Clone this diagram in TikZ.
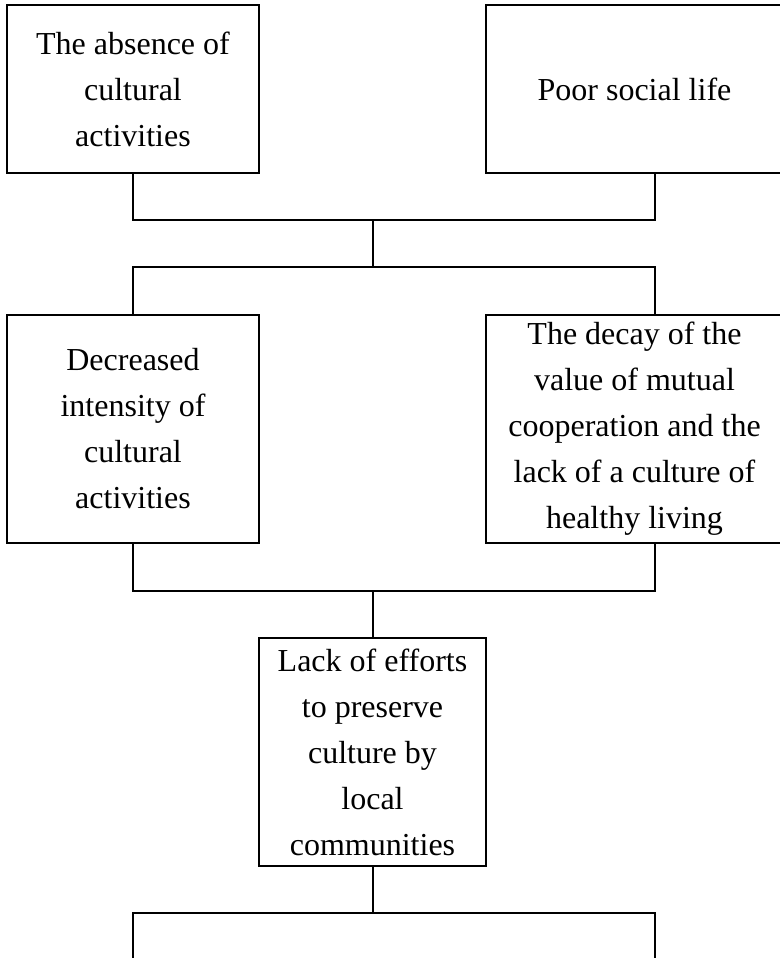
\documentclass[tikz,border=0pt]{standalone}
\usepackage{fontspec}
\setmainfont{Liberation Serif}
\begin{document}
\begin{tikzpicture}[x=1pt,y=-1pt,
  box/.style={draw, line width=2pt, inner sep=0pt, align=center,
    font=\fontsize{32}{46}\selectfont},
  conn/.style={line width=2pt}]
\useasboundingbox (0,0) rectangle (779,958);
\node[box, minimum width=252, minimum height=168] (b1) at (133,89)
  {The absence of\\cultural\\activities};
\node[box, minimum width=297, minimum height=168] (b2) at (634.5,89)
  {Poor social life};
\node[box, minimum width=252, minimum height=228] (b3) at (133,429)
  {Decreased\\intensity of\\cultural\\activities};
\node[box, minimum width=297, minimum height=228] (b4) at (634.5,429)
  {The decay of the\\value of mutual\\cooperation and the\\lack of a culture of\\healthy living};
\node[box, minimum width=227, minimum height=228] (b5) at (372.5,752)
  {Lack of efforts\\to preserve\\culture by\\local\\communities};
\coordinate (r) at (655,0);
\coordinate (j1) at (372.5,220);
\coordinate (j2) at (372.5,267);
\coordinate (j3) at (372.5,591);
\coordinate (j4) at (372.5,913);
\coordinate (bl) at (133,965);
\coordinate (br) at (655,965);
\draw[conn] (b1.south) |- (j1) -| (b2.south -| r);
\draw[conn] (j1) -- (j2);
\draw[conn] (b3.north) |- (j2) -| (b4.north -| r);
\draw[conn] (b3.south) |- (j3) -| (b4.south -| r);
\draw[conn] (j3) -- (b5.north);
\draw[conn] (b5.south) -- (j4);
\draw[conn] (bl) |- (j4) -| (br);
\end{tikzpicture}
\end{document}
